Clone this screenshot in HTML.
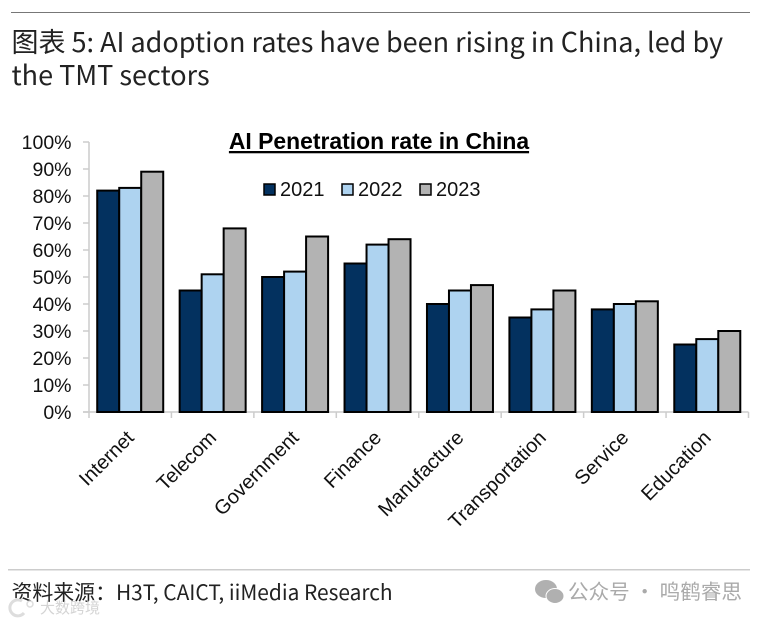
<!DOCTYPE html>
<html>
<head>
<meta charset="utf-8">
<style>
html,body{margin:0;padding:0;background:#fff;}
body{width:767px;height:622px;overflow:hidden;position:relative;}
svg{position:absolute;left:0;top:0;display:block;}
.cjk{font-family:"Noto Sans CJK SC","Liberation Sans",sans-serif;}
.lib{font-family:"Liberation Sans",sans-serif;}
</style>
</head>
<body>
<svg id="chart" width="767" height="622" viewBox="0 0 767 622" xmlns="http://www.w3.org/2000/svg">
  <rect x="11" y="12" width="739" height="1" fill="#777"/>
  <text class="cjk" x="11.5" y="52" font-size="27" fill="#222">图表 5: AI adoption rates have been rising in China, led by</text>
  <text class="cjk" x="11.5" y="85" font-size="27" fill="#222">the TMT sectors</text>
  <text class="lib" x="379" y="149" font-size="22.9" font-weight="bold" fill="#000" text-anchor="middle" text-decoration="underline">AI Penetration rate in China</text>
  <g id="axes"></g>
  <g id="bars"></g>
  <g id="legend"></g>
  <rect x="8" y="569" width="742" height="1.5" fill="#ccc"/>
  <text class="cjk" x="11.5" y="600" font-size="20.9" fill="#222">资料来源：H3T, CAICT, iiMedia Research</text>
  <g fill="#b0b0b0">
    <ellipse cx="546" cy="589" rx="11" ry="9"/>
    <ellipse cx="555" cy="596" rx="9" ry="7.5" stroke="#fff" stroke-width="1"/>
  </g>
  <text class="cjk" x="568" y="599" font-size="20.6" fill="#aaaaaa">公众号 · 鸣鹤睿思</text>
  <text class="cjk" x="40" y="613" font-size="15" fill="#d4d4d4">大数跨境</text>
  <path d="M22 601 A8 8 0 1 0 24 613" fill="none" stroke="#ddd" stroke-width="3"/>
  <circle cx="30" cy="604" r="3" fill="none" stroke="#ddd" stroke-width="1.5"/>
</svg>
<script>
var categories = ["Internet","Telecom","Government","Finance","Manufacture","Transportation","Service","Education"];
var seriesNames = ["2021","2022","2023"];
var values2021 = [82,45,50,55,40,35,38,25];
var values2022 = [83,51,52,62,45,38,40,27];
var values2023 = [89,68,65,64,47,45,41,30];
var yTicks = [0,10,20,30,40,50,60,70,80,90,100];

var seriesValues = [values2021,values2022,values2023];
var seriesColors = ["#03315f","#aed3f0","#b3b3b3"];
var NS = "http://www.w3.org/2000/svg";
var plotLeft = 89, plotRight = 748.5, plotTop = 142, plotBottom = 412;
var barWidth = 22;
function yScale(v){ return plotBottom - (v/100)*(plotBottom-plotTop); }
function xBand(i){ return plotLeft + i*(plotRight-plotLeft)/categories.length; }
function make(tag, attrs, parent){
  var el = document.createElementNS(NS, tag);
  for (var k in attrs) el.setAttribute(k, attrs[k]);
  parent.appendChild(el);
  return el;
}
var axes = document.getElementById("axes");
var bars = document.getElementById("bars");
var legend = document.getElementById("legend");
var axisColor = "#cccccc";

var yAxis = make("line",{x1:plotLeft,x2:plotLeft,y1:plotTop,y2:plotBottom,stroke:axisColor,"stroke-width":1.5},axes);


var xAxis = make("line",{x1:plotLeft-6,x2:plotRight,y1:plotBottom,y2:plotBottom,stroke:axisColor,"stroke-width":1.5},axes);



yTicks.forEach(function(t){
  var y = yScale(t);
  var tick = make("line",{x1:plotLeft-6,x2:plotLeft,y1:y,y2:y,stroke:axisColor,"stroke-width":1.5},axes);
  
  
  var label = make("text",{x:71.5,y:y+7,"text-anchor":"end","font-size":19.5,fill:"#111","class":"lib"},axes);
  
  
  label.textContent = t + "%";
});

for (var c = 0; c <= categories.length; c++){
  var tx = xBand(c);
  var xt = make("line",{x1:tx,x2:tx,y1:plotBottom,y2:plotBottom+6,stroke:axisColor,"stroke-width":1.5},axes);
  
  
}

categories.forEach(function(name,i){
  var center = (xBand(i)+xBand(i+1))/2;
  seriesValues.forEach(function(vals,s){
    var x = center + (s-1.5)*barWidth;
    var y = yScale(vals[i]);
    var bar = make("rect",{x:x,y:y,width:barWidth,height:plotBottom-y,fill:seriesColors[s],stroke:"#000","stroke-width":2},bars);
    
    
  });
  var ax = center - 5, ay = 429;
  var lab = make("text",{x:ax,y:ay,"text-anchor":"end","font-size":20,fill:"#111","class":"lib",
    transform:"rotate(-45 "+ax+" "+ay+")",dy:"0.7em"},axes);
  
  
  lab.textContent = name;
});

var legendX = [264,342,420];
seriesNames.forEach(function(n,s){
  var sw = make("rect",{x:legendX[s],y:184,width:11,height:11,fill:seriesColors[s],stroke:"#000","stroke-width":1.5},legend);
  
  
  var t = make("text",{x:legendX[s]+16,y:196,"font-size":20,fill:"#111","class":"lib"},legend);
  
  
  t.textContent = n;
});
</script>
</body>
</html>
